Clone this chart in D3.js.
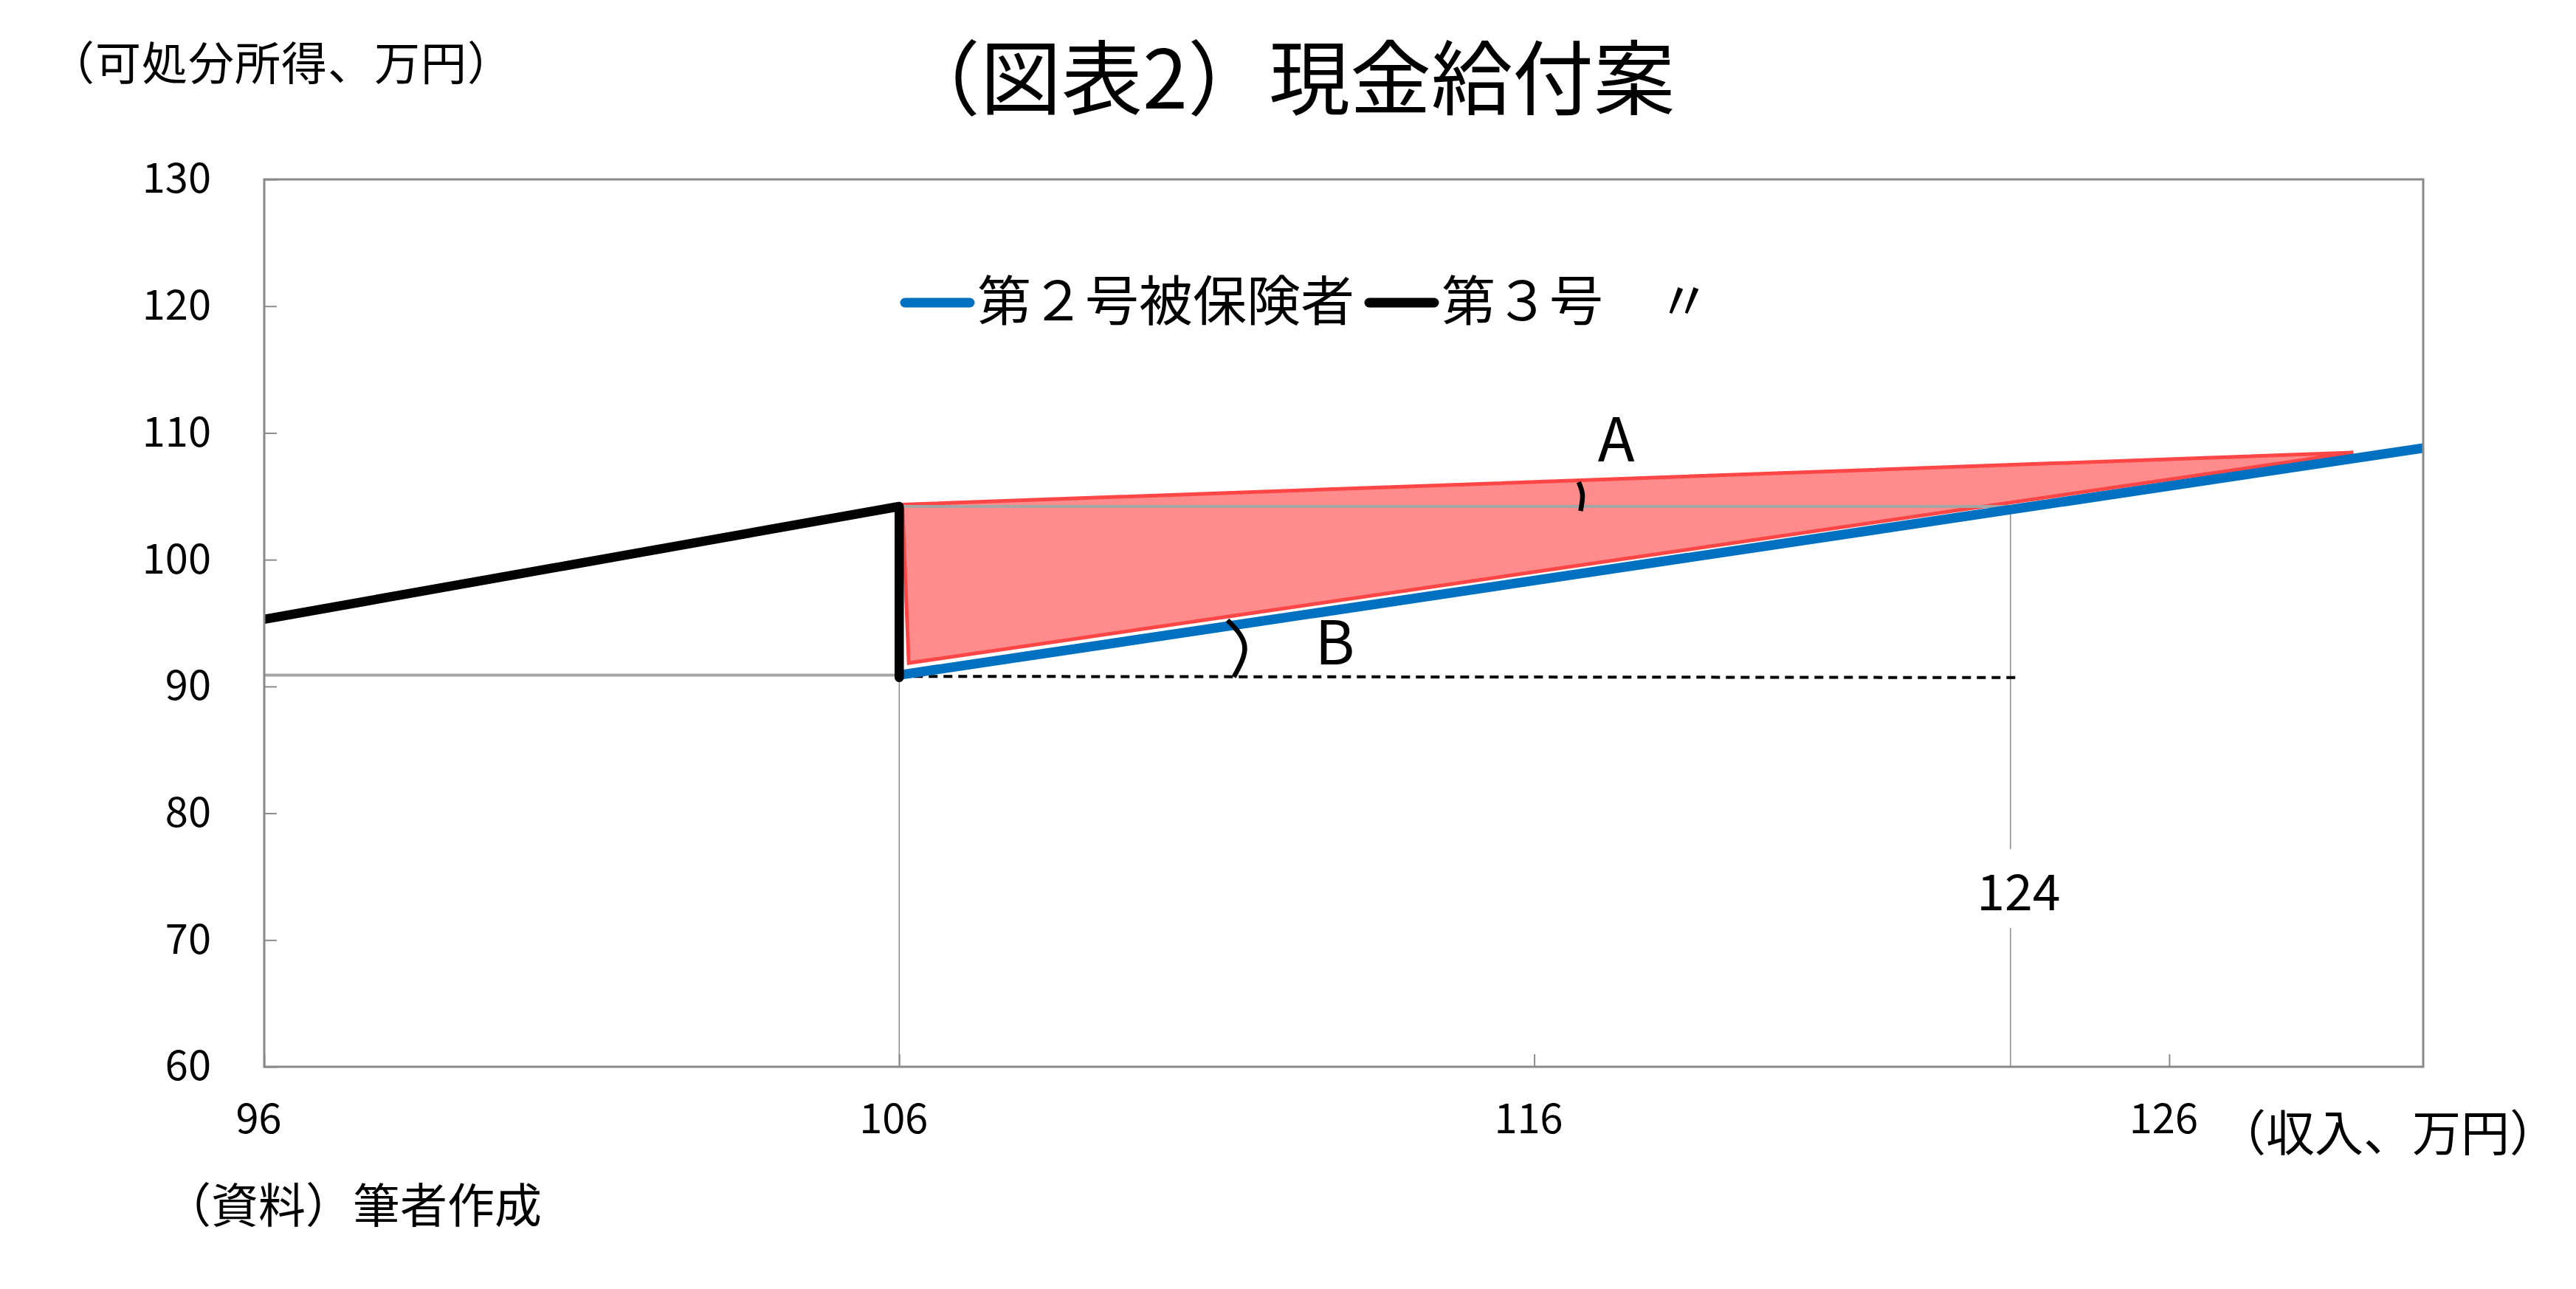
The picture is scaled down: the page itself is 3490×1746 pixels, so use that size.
<!DOCTYPE html>
<html><head><meta charset="utf-8">
<script src="https://cdn.jsdelivr.net/npm/d3@7"></script>
<style>
html,body{margin:0;padding:0;background:#fff;}
text{font-family:"Noto Sans CJK JP","Noto Sans",sans-serif;fill:#000;}
</style></head>
<body>
<svg id="c" width="3490" height="1746"></svg>
<script>
// ---- data ----
const xTicks = [96, 106, 116, 126];
const yTicks = [60, 70, 80, 90, 100, 110, 120, 130];
const xDomain = [96, 130];
const yDomain = [60, 130];

// 第2号被保険者 (blue)
const no2X = [106, 130];
const no2Y = [90.9, 108.8];
// 第3号被保険者 (black)
const no3X = [96, 106, 106];
const no3Y = [95.3, 104.2, 90.7];
// shaded gap (red)
const gapX = [106.05, 128.9, 106.15];
const gapY = [104.35, 108.45, 91.85];
// reference levels
const baseLevel = 90.9;      // grey line left of 106
const topLevel = 104.2;      // grey line from 106
const dashX = [106, 123.6];
const dashY = [90.8, 90.7];
const crossX = 123.5;        // vertical guide
const crossLabel = "124";
// angle arcs
const arcAX = [116.70, 116.76, 116.73];
const arcAY = [106.12, 105.13, 103.85];
const arcBX = [111.17, 111.44, 111.27];
const arcBY = [95.23, 93.19, 90.75];
const labelA = {x: 117.29, y: 107.75, t: "A"};
const labelB = {x: 112.86, y: 91.74, t: "B"};

const title = "（図表2）現金給付案";
const yTitle = "（可処分所得、万円）";
const xTitle = "（収入、万円）";
const source = "（資料）筆者作成";
const legendItems = [{t: "第２号被保険者", c: "#0070c0"}, {t: "第３号　〃", c: "#000000"}];

// ---- layout ----
const L = 358, R = 3283, T = 243, B = 1445;
const svg = d3.select("#c");
const x = d3.scaleLinear().domain(xDomain).range([L, R]);
const y = d3.scaleLinear().domain(yDomain).range([B, T]);
const zip = (xs, ys) => xs.map((v, i) => [v, ys[i]]);
const line = d3.line().x(d => x(d[0])).y(d => y(d[1]));

svg.append("defs").append("clipPath").attr("id", "plot")
  .append("rect").attr("x", L).attr("y", T).attr("width", R - L).attr("height", B - T);

// axes (ticks inside)
const gx = svg.append("g").attr("transform", `translate(0,${B})`)
  .call(d3.axisBottom(x).tickValues(xTicks).tickSize(-17).tickPadding(50).tickFormat(d3.format("d")));
const gy = svg.append("g").attr("transform", `translate(${L},0)`)
  .call(d3.axisLeft(y).tickValues(yTicks).tickSize(-17).tickPadding(72).tickFormat(d3.format("d")));
[gx, gy].forEach(g => {
  g.select(".domain").remove();
  g.selectAll(".tick line").attr("stroke", "#8c8c8c").attr("stroke-width", 2);
  g.selectAll(".tick text").attr("font-size", 56).attr("font-family", '"Noto Sans CJK JP",sans-serif');
});
gx.selectAll(".tick text").attr("dx", -8);

const plot = svg.append("g").attr("clip-path", "url(#plot)");

// red gap polygon
plot.append("path").attr("d", line(zip(gapX, gapY)) + "Z")
  .attr("fill", "#ff8c8c").attr("stroke", "#ff4646").attr("stroke-width", 5).attr("stroke-linejoin", "miter");

// guide lines
plot.append("line").attr("x1", x(xDomain[0])).attr("x2", x(106)).attr("y1", y(baseLevel)).attr("y2", y(baseLevel))
  .attr("stroke", "#a6a6a6").attr("stroke-width", 4);
plot.append("line").attr("x1", x(106)).attr("x2", x(crossX)).attr("y1", y(topLevel)).attr("y2", y(topLevel))
  .attr("stroke", "#a6a6a6").attr("stroke-width", 4);
plot.append("line").attr("x1", x(106)).attr("x2", x(106)).attr("y1", y(baseLevel)).attr("y2", y(yDomain[0]))
  .attr("stroke", "#8c8c8c").attr("stroke-width", 1.5);
plot.append("line").attr("x1", x(crossX)).attr("x2", x(crossX)).attr("y1", y(topLevel)).attr("y2", y(yDomain[0]))
  .attr("stroke", "#8c8c8c").attr("stroke-width", 1.5);
plot.append("path").attr("d", line(zip(dashX, dashY))).attr("fill", "none")
  .attr("stroke", "#000").attr("stroke-width", 4).attr("stroke-dasharray", "12,8");

// series
plot.append("path").attr("d", line(zip(no2X, no2Y))).attr("fill", "none")
  .attr("stroke", "#0070c0").attr("stroke-width", 13).attr("stroke-linecap", "round");
plot.append("path").attr("d", line(zip(no3X, no3Y))).attr("fill", "none")
  .attr("stroke", "#000").attr("stroke-width", 12.5).attr("stroke-linecap", "round").attr("stroke-linejoin", "round");

// angle arcs
const curve = d3.line().x(d => x(d[0])).y(d => y(d[1])).curve(d3.curveNatural);
[[arcAX, arcAY], [arcBX, arcBY]].forEach(([ax, ay]) => {
  svg.append("path").attr("d", curve(zip(ax, ay))).attr("fill", "none")
    .attr("stroke", "#000").attr("stroke-width", 6.5);
});

// frame
svg.append("rect").attr("x", L).attr("y", T).attr("width", R - L).attr("height", B - T)
  .attr("fill", "none").attr("stroke", "#898989").attr("stroke-width", 3);

// annotations
[labelA, labelB].forEach(l => {
  svg.append("text").attr("x", x(l.x)).attr("y", y(l.y)).attr("text-anchor", "middle")
    .attr("font-size", 82).text(l.t);
});
const cl = svg.append("g");
const clt = cl.append("text").attr("x", x(crossX) + 11).attr("y", y(72.34)).attr("text-anchor", "middle")
  .attr("font-size", 68).text(crossLabel);
const bb = clt.node().getBBox();
cl.insert("rect", "text").attr("x", bb.x - 8).attr("y", bb.y - 4).attr("width", bb.width + 16).attr("height", bb.height + 8)
  .attr("fill", "#fff");

// legend
let lx = 1220;
const ly = 410;
const lg = svg.append("g");
legendItems.forEach(it => {
  lg.append("line").attr("x1", lx + 6).attr("x2", lx + 94).attr("y1", ly).attr("y2", ly)
    .attr("stroke", it.c).attr("stroke-width", 13).attr("stroke-linecap", "round");
  const t = lg.append("text").attr("x", lx + 104).attr("y", ly - 8).attr("dominant-baseline", "central")
    .attr("font-size", 73).text(it.t);
  lx = lx + 104 + t.node().getComputedTextLength() + 14;
});

// titles
svg.append("text").attr("x", 1218).attr("y", 99).attr("dominant-baseline", "central")
  .attr("font-size", 110).text(title);
svg.append("text").attr("x", 66).attr("y", 82).attr("dominant-baseline", "central")
  .attr("font-size", 62).attr("letter-spacing", 1).text(yTitle);
svg.append("text").attr("x", 3004).attr("y", 1530).attr("dominant-baseline", "central")
  .attr("font-size", 66).text(xTitle);
svg.append("text").attr("x", 222).attr("y", 1628).attr("dominant-baseline", "central")
  .attr("font-size", 64).text(source);
</script>
</body></html>
